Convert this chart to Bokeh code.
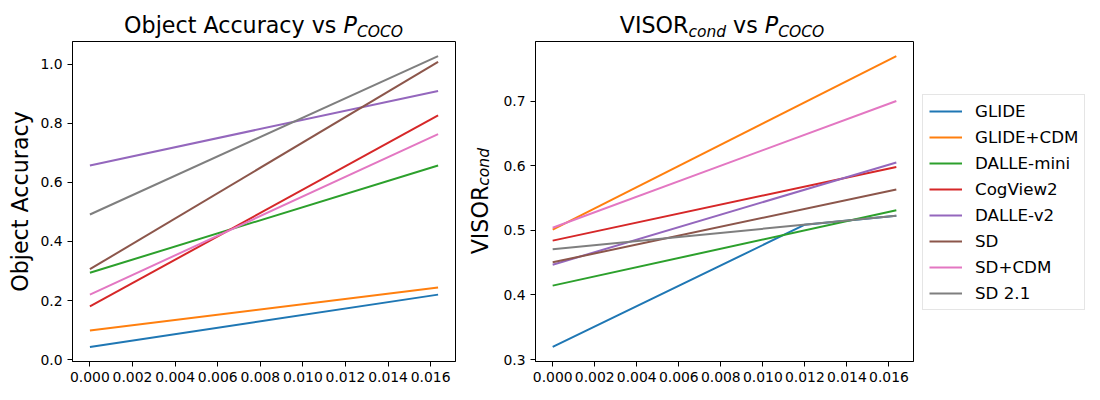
from bokeh.plotting import figure
from bokeh.models import (Range1d, FixedTicker, PrintfTickFormatter, Legend,
                          LegendItem, Div)
from bokeh.layouts import row, column
from bokeh.embed import file_html
from bokeh.resources import INLINE

# ---------------- data ----------------
models = ["GLIDE", "GLIDE+CDM", "DALLE-mini", "CogView2", "DALLE-v2", "SD", "SD+CDM", "SD 2.1"]
colors = ["#1f77b4", "#ff7f0e", "#2ca02c", "#d62728", "#9467bd", "#8c564b", "#e377c2", "#7f7f7f"]

p_coco = [0.0, 0.01635]

obj_acc = {
    "GLIDE":      [0.043, 0.220],
    "GLIDE+CDM":  [0.099, 0.244],
    "DALLE-mini": [0.294, 0.657],
    "CogView2":   [0.180, 0.826],
    "DALLE-v2":   [0.657, 0.909],
    "SD":         [0.306, 1.007],
    "SD+CDM":     [0.220, 0.763],
    "SD 2.1":     [0.491, 1.027],
}

visor_x = {
    "GLIDE": [0.0, 0.012, 0.01635],
}
visor_cond = {
    "GLIDE":      [0.3195, 0.5087, 0.5226],
    "GLIDE+CDM":  [0.501, 0.7696],
    "DALLE-mini": [0.4144, 0.531],
    "CogView2":   [0.484, 0.598],
    "DALLE-v2":   [0.4468, 0.605],
    "SD":         [0.4504, 0.563],
    "SD+CDM":     [0.504, 0.700],
    "SD 2.1":     [0.4705, 0.5226],
}

x_ticks = [0.000, 0.002, 0.004, 0.006, 0.008, 0.010, 0.012, 0.014, 0.016]
y_ticks_left = [0.0, 0.2, 0.4, 0.6, 0.8, 1.0]
y_ticks_right = [0.3, 0.4, 0.5, 0.6, 0.7]

FONT = "DejaVu Sans"


def padded(vals, frac=0.05):
    lo, hi = min(vals), max(vals)
    span = hi - lo
    return lo - frac * span, hi + frac * span


def style(p, yticks, yfmt):
    p.xgrid.visible = False
    p.ygrid.visible = False
    p.outline_line_color = "black"
    p.outline_line_alpha = 1.0
    p.outline_line_width = 1
    for ax in (p.xaxis[0], p.yaxis[0]):
        ax.axis_line_color = "black"
        ax.major_tick_line_color = "black"
        ax.major_tick_in = 0
        ax.major_tick_out = 5
        ax.minor_tick_line_color = None
        ax.major_label_text_font = FONT
        ax.major_label_text_font_size = "13.9px"
        ax.major_label_text_color = "black"
        ax.major_label_standoff = 5
    p.xaxis[0].ticker = FixedTicker(ticks=x_ticks)
    p.xaxis[0].formatter = PrintfTickFormatter(format="%.3f")
    p.yaxis[0].ticker = FixedTicker(ticks=yticks)
    p.yaxis[0].formatter = PrintfTickFormatter(format=yfmt)


SUB = "font-size:15.5px;vertical-align:-4px;line-height:0;font-style:italic;"


def title_html(inner, pad_left, width):
    return ('<div style="margin-left:%dpx;width:%dpx;text-align:center;'
            "font-family:'DejaVu Sans';font-size:22.2px;color:black;line-height:25px;"
            'padding-top:13px;white-space:nowrap;">%s</div>' % (pad_left, width, inner))


# ---------------- left panel ----------------
x0, x1 = padded(p_coco + visor_x["GLIDE"])
ly0, ly1 = padded([v for vs in obj_acc.values() for v in vs])

p1 = figure(width=470, height=353, min_border_left=72, min_border_right=15,
            min_border_top=3, min_border_bottom=30, output_backend="svg",
            toolbar_location=None, x_range=Range1d(x0, x1), y_range=Range1d(ly0, ly1))
p1.title.visible = False
style(p1, y_ticks_left, "%.1f")
p1.yaxis[0].axis_label = "Object Accuracy"
p1.yaxis[0].axis_label_text_font = FONT
p1.yaxis[0].axis_label_text_font_size = "22.2px"
p1.yaxis[0].axis_label_text_font_style = "normal"
p1.yaxis[0].axis_label_text_color = "black"
p1.yaxis[0].axis_label_standoff = 4
for m, c in zip(models, colors):
    p1.line(p_coco, obj_acc[m], line_color=c, line_width=2)

# ---------------- right panel ----------------
ry0, ry1 = padded([v for vs in visor_cond.values() for v in vs])
p2 = figure(width=418, height=353, min_border_left=31, min_border_right=5,
            min_border_top=3, min_border_bottom=30, output_backend="svg",
            toolbar_location=None, x_range=Range1d(x0, x1), y_range=Range1d(ry0, ry1))
p2.title.visible = False
style(p2, y_ticks_right, "%.1f")
for m, c in zip(models, colors):
    xs = visor_x.get(m, p_coco)
    p2.line(xs, visor_cond[m], line_color=c, line_width=2)

# ---------------- legend panel (same series, hidden, only for the key) ----------------
p3 = figure(width=174, height=353, min_border=0, min_border_left=0, min_border_right=0,
            min_border_top=0, min_border_bottom=0, output_backend="svg",
            toolbar_location=None, x_axis_location=None, y_axis_location=None,
            x_range=Range1d(x0, x1), y_range=Range1d(ry0, ry1))
p3.title.visible = False
p3.outline_line_color = None
p3.xgrid.visible = False
p3.ygrid.visible = False
items = []
for m, c in zip(models, colors):
    xs = visor_x.get(m, p_coco)
    r = p3.line(xs, visor_cond[m], line_color=c, line_width=2, visible=False)
    items.append(LegendItem(label=m, renderers=[r]))

legend = Legend(items=items, location=(4, 51), orientation="vertical",
                label_text_font=FONT, label_text_font_size="16.7px", label_text_color="black",
                glyph_width=33, glyph_height=20, label_height=20, label_standoff=13,
                spacing=6, padding=6, margin=0,
                border_line_color="#cccccc", border_line_width=1,
                background_fill_color="white", background_fill_alpha=0.8,
                inactive_fill_alpha=0.0)
p3.add_layout(legend, "center")

# ---------------- text pieces (titles, right y label) ----------------
t1 = Div(width=500, height=38, margin=0,
         text=title_html('Object Accuracy vs <i>P</i><sub style="%s">COCO</sub>' % SUB, 72, 383))
t2 = Div(width=592, height=38, margin=0,
         text=title_html('VISOR<sub style="%s">cond</sub> vs <i>P</i><sub style="%s">COCO</sub>'
                         % (SUB, SUB), 31, 382))
ylab2 = Div(width=30, height=353, margin=0,
            text=('<div style="margin-top:3px;height:320px;width:30px;display:flex;'
                  'align-items:center;justify-content:flex-end;box-sizing:border-box;padding-right:7px;">'
                  '<div style="writing-mode:vertical-rl;transform:rotate(180deg);'
                  "font-family:'DejaVu Sans';font-size:22.2px;line-height:25px;color:black;"
                  'white-space:nowrap;">VISOR<sub style="%s">cond</sub></div></div>' % SUB))

layout = column(row(t1, t2), row(p1, ylab2, p2, p3))
open("out.html", "w").write(file_html(layout, INLINE))
